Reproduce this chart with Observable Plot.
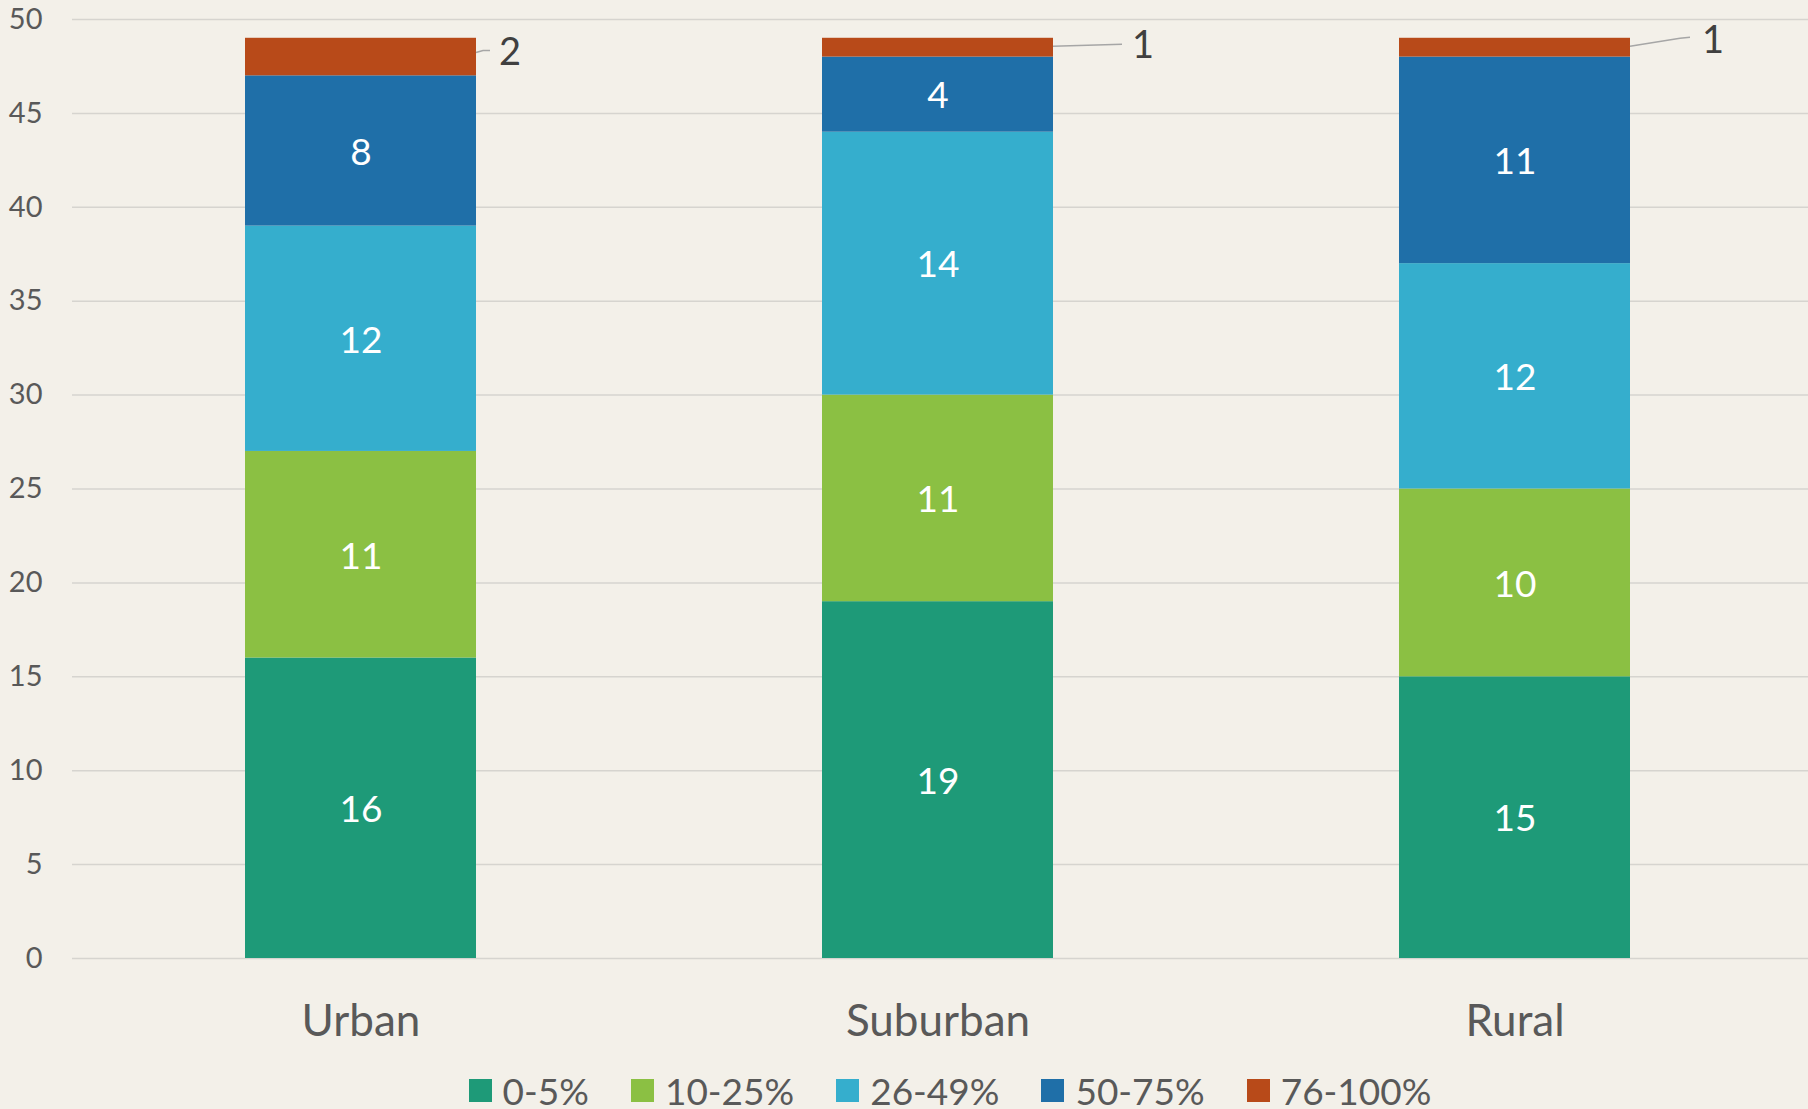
<!DOCTYPE html>
<html>
<head>
<meta charset="utf-8">
<script src="https://cdn.jsdelivr.net/npm/d3@7"></script>
<script src="https://cdn.jsdelivr.net/npm/@observablehq/plot@0.6"></script>
<style>
  html, body { margin: 0; padding: 0; background: #f3f0e9; }
  body { width: 1808px; height: 1109px; overflow: hidden; font-family: Lato, "Noto Sans", sans-serif; }
  #legend { display: flex; justify-content: center; align-items: center; margin-top: 20px; padding-left: 92px; height: 40px; }
  .item { display: flex; align-items: center; margin: 0 21px; color: #595959; font-size: 37px; }
  .sw { width: 23px; height: 23px; margin-right: 11px; }
</style>
</head>
<body>
<div id="chart"></div>
<div id="legend"></div>
<script>
const categories = ["Urban", "Suburban", "Rural"];
const ranges = ["0-5%", "10-25%", "26-49%", "50-75%", "76-100%"];
const s0to5 = [16, 19, 15];
const s10to25 = [11, 11, 10];
const s26to49 = [12, 14, 12];
const s50to75 = [8, 4, 11];
const s76to100 = [2, 1, 1];
const colors = ["#1e9a78", "#8bc043", "#35aecd", "#1f6fa8", "#b84a19"];
const yTicks = [0, 5, 10, 15, 20, 25, 30, 35, 40, 45, 50];

const seriesList = [s0to5, s10to25, s26to49, s50to75, s76to100];
const rows = [];
categories.forEach((c, ci) => {
  ranges.forEach((r, ri) => rows.push({category: c, range: r, value: seriesList[ri][ci]}));
});

// callouts for the thin top segments (label outside with leader line)
const calloutStyle = [
  {dx: 23, dy: -5, path: [[0, -4], [7, -6], [14, -6]]},
  {dx: 79, dy: -2, path: [[0, -1], [69, -3]]},
  {dx: 72, dy: -7, path: [[0, -1], [50, -9], [60, -10]]}
];
const callouts = categories.map((c, ci) => {
  const total = seriesList.reduce((s, a) => s + a[ci], 0);
  const v = s76to100[ci];
  return {category: c, value: v, mid: total - v / 2, idx: ci};
});

const plot = Plot.plot({
  width: 1808,
  height: 1050,
  marginLeft: 72,
  marginRight: 5,
  marginTop: 19,
  marginBottom: 92,
  style: {fontFamily: "Lato, 'Noto Sans', sans-serif", background: "transparent", overflow: "visible"},
  x: {domain: categories, paddingInner: 0.6, paddingOuter: 0.3, label: null},
  y: {domain: [0, 50], label: null},
  color: {domain: ranges, range: colors},
  marks: [
    Plot.gridY(yTicks, {stroke: "#d6d4cf", strokeOpacity: 1, strokeWidth: 1.5, insetRight: -5}),
    Plot.axisY(yTicks, {tickSize: 0, tickPadding: 30, fontSize: 29, fill: "#595959", label: null}),
    Plot.axisX({tickSize: 0, tickPadding: 46, fontSize: 44, fill: "#595959", label: null}),
    Plot.barY(rows, Plot.stackY({x: "category", y: "value", fill: "range", order: ranges})),
    Plot.text(rows, Plot.stackY({
      x: "category", y: "value", z: "range", order: ranges,
      text: d => d.range === "76-100%" ? null : String(d.value),
      fill: "white", fontSize: 37, dy: 2
    })),
    Plot.text(callouts, {
      x: "category", y: "mid", text: d => String(d.value),
      fill: "#404040", fontSize: 38, textAnchor: "start",
      render(index, scales, values, dimensions, context, next) {
        const sx = scales.x;
        const bw = typeof sx.bandwidth === "function" ? sx.bandwidth() : (scales.scales && scales.scales.x ? scales.scales.x.bandwidth : 0);
        const g = d3.create("svg:g");
        for (const i of index) {
          const d = callouts[i];
          const st = calloutStyle[d.idx];
          const x0 = values.x[i] + bw;
          const y0 = values.y[i];
          g.append("path")
            .attr("d", d3.line()(st.path.map(([px, py]) => [x0 + px, y0 + py])))
            .attr("fill", "none").attr("stroke", "#a6a6a6").attr("stroke-width", 1.5);
          g.append("text")
            .attr("x", x0 + st.dx).attr("y", y0 + st.dy)
            .attr("dy", "0.35em")
            .attr("text-anchor", "start")
            .attr("fill", "#404040").attr("font-size", 38)
            .text(String(d.value));
        }
        return g.node();
      }
    })
  ]
});
document.getElementById("chart").appendChild(plot);

const legend = document.getElementById("legend");
ranges.forEach((r, i) => {
  const item = document.createElement("div");
  item.className = "item";
  const sw = document.createElement("div");
  sw.className = "sw";
  sw.style.background = colors[i];
  const t = document.createElement("span");
  t.textContent = r;
  item.appendChild(sw);
  item.appendChild(t);
  legend.appendChild(item);
});
</script>
</body>
</html>
